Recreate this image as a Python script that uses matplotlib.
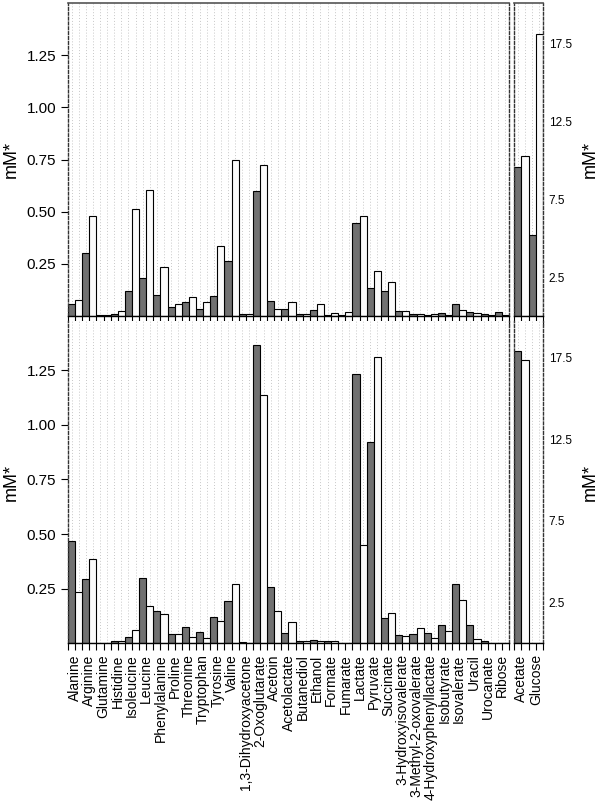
import numpy as np
import matplotlib
matplotlib.use('Agg')
import matplotlib.pyplot as plt

plt.rcParams['font.family'] = ['Liberation Sans', 'DejaVu Sans']

# metabolites on the left panels
names = ['Alanine', 'Arginine', 'Glutamine', 'Histidine', 'Isoleucine', 'Leucine',
         'Phenylalanine', 'Proline', 'Threonine', 'Tryptophan', 'Tyrosine', 'Valine',
         '1,3-Dihydroxyacetone', '2-Oxoglutarate', 'Acetoin', 'Acetolactate',
         'Butanediol', 'Ethanol', 'Formate', 'Fumarate', 'Lactate', 'Pyruvate',
         'Succinate', '3-Hydroxyisovalerate', '3-Methyl-2-oxovalerate',
         '4-Hydroxyphenyllactate', 'Isobutyrate', 'Isovalerate', 'Uracil',
         'Urocanate', 'Ribose']

top_dark = [0.056, 0.30, 0.004, 0.010, 0.120, 0.180, 0.100, 0.041, 0.069, 0.035,
            0.096, 0.266, 0.008, 0.598, 0.072, 0.035, 0.010, 0.029, 0.005, 0.006,
            0.448, 0.136, 0.121, 0.026, 0.008, 0.006, 0.013, 0.056, 0.019, 0.008,
            0.019]
top_white = [0.077, 0.48, 0.004, 0.025, 0.515, 0.606, 0.233, 0.056, 0.093, 0.067,
             0.335, 0.746, 0.008, 0.722, 0.035, 0.067, 0.008, 0.057, 0.016, 0.020,
             0.478, 0.214, 0.161, 0.022, 0.011, 0.010, 0.006, 0.029, 0.013, 0.005,
             0.003]

bot_dark = [0.469, 0.292, 0.0, 0.008, 0.030, 0.300, 0.148, 0.043, 0.073, 0.050,
            0.121, 0.194, 0.006, 1.368, 0.258, 0.047, 0.008, 0.014, 0.008, 0.0,
            1.231, 0.921, 0.116, 0.037, 0.043, 0.045, 0.085, 0.269, 0.085, 0.012,
            0.0]
bot_white = [0.234, 0.384, 0.0, 0.012, 0.062, 0.171, 0.132, 0.040, 0.030, 0.025,
             0.104, 0.269, 0.002, 1.139, 0.148, 0.099, 0.012, 0.011, 0.011, 0.0,
             0.452, 1.310, 0.138, 0.033, 0.070, 0.026, 0.057, 0.197, 0.019, 0.0,
             0.0]

# big ones on the right panels
side_names = ['Acetate', 'Glucose']
side_top_dark = [9.6, 5.2]
side_top_white = [10.25, 18.1]
side_bot_dark = [17.95, 0.0]
side_bot_white = [17.35, 0.0]

left_ticks = [0.25, 0.50, 0.75, 1.00, 1.25]
right_ticks = [2.5, 7.5, 12.5, 17.5]

dark_col = '#717171'
white_col = '#fbfbfb'
border_col = '#333333'


def draw_panel(ax, dark, white, labels, ymax, top_row, side):
    n = len(dark)
    xd = np.arange(n) * 2
    xw = xd + 1
    # dotted background grid, one line per bar
    for x in np.arange(2 * n) + 0.5:
        ax.axvline(x, color='#c8c8c8', lw=0.7, ls=(0, (1, 2)), zorder=0)
    ax.bar(xd, dark, width=1, align='edge', color=dark_col, edgecolor='black', lw=0.8, zorder=2)
    ax.bar(xw, white, width=1, align='edge', color=white_col, edgecolor='black', lw=0.8, zorder=2)
    ax.set_xlim(0, 2 * n)
    ax.set_ylim(0, ymax)

    for s in ['left', 'right']:
        ax.spines[s].set_linestyle((0, (2, 1.5)))
        ax.spines[s].set_color(border_col)
        ax.spines[s].set_linewidth(1)
    ax.spines['bottom'].set_color('black')
    ax.spines['bottom'].set_linewidth(1)
    if top_row:
        ax.spines['top'].set_color('#555555')
        ax.spines['top'].set_linewidth(1.2)
    else:
        ax.spines['top'].set_visible(False)

    # labels sit on the pair centres, tick marks on every bar edge
    ax.xaxis.remove_overlapping_locs = False
    ax.set_xticks(xd + 1)
    if top_row:
        ax.set_xticklabels([])
    else:
        ax.set_xticklabels(labels, rotation=90, fontsize=10)
    ax.tick_params(axis='x', which='major', length=0, pad=8)
    ax.set_xticks(np.arange(2 * n + 1), minor=True)
    ax.tick_params(axis='x', which='minor', length=7 if top_row else 5, width=0.8)

    if side:
        ax.yaxis.tick_right()
        ax.set_yticks(right_ticks)
        ax.set_yticklabels(['{:.1f}'.format(t) for t in right_ticks])
        ax.tick_params(axis='y', length=0, pad=4, labelsize=8.5)
        ax.yaxis.set_label_position('right')
        ax.set_ylabel('mM*', fontsize=13, rotation=90)
        ax.yaxis.set_label_coords(2.33, 0.5)
    else:
        ax.set_yticks(left_ticks)
        ax.set_yticklabels(['{:.2f}'.format(t) for t in left_ticks])
        ax.tick_params(axis='y', length=5, width=0.8, labelsize=11)
        ax.set_ylabel('mM*', fontsize=13)
        ax.yaxis.set_label_coords(-0.11, 0.5)


fig = plt.figure(figsize=(6, 8.02), dpi=100)
ax1 = fig.add_axes([0.1133, 0.606, 0.735, 0.390])
ax2 = fig.add_axes([0.8567, 0.606, 0.0483, 0.390])
ax3 = fig.add_axes([0.1133, 0.198, 0.735, 0.4015])
ax4 = fig.add_axes([0.8567, 0.198, 0.0483, 0.4015])

draw_panel(ax1, top_dark, top_white, names, 1.50, True, False)
draw_panel(ax2, side_top_dark, side_top_white, side_names, 20.1, True, True)
draw_panel(ax3, bot_dark, bot_white, names, 1.475, False, False)
draw_panel(ax4, side_bot_dark, side_bot_white, side_names, 19.75, False, True)

plt.savefig('out.png', dpi=100)
